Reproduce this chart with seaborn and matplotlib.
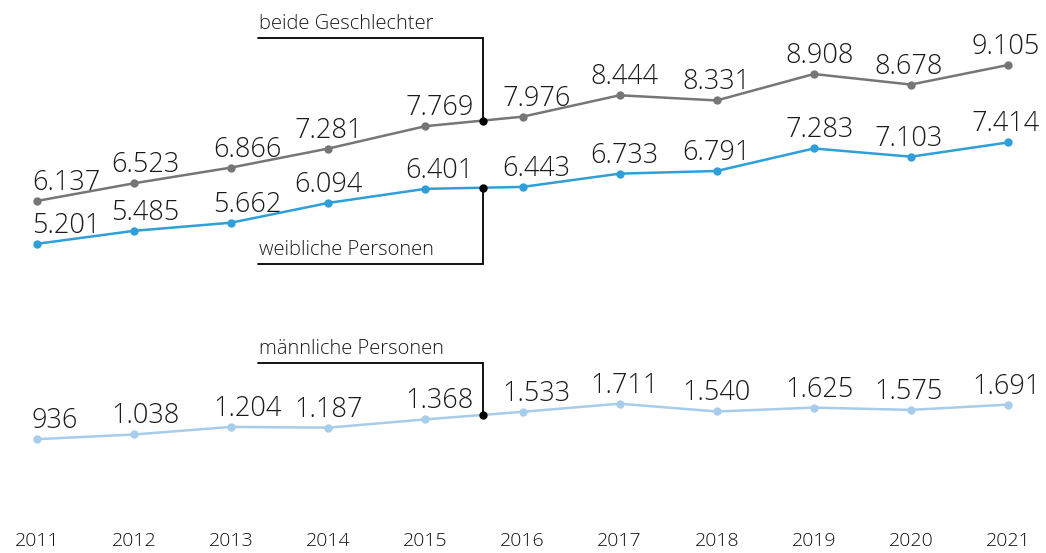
import numpy as np
import pandas as pd
import matplotlib.pyplot as plt
import seaborn as sns

# Daten
years = [2011, 2012, 2013, 2014, 2015, 2016, 2017, 2018, 2019, 2020, 2021]
beide = [6137, 6523, 6866, 7281, 7769, 7976, 8444, 8331, 8908, 8678, 9105]
weiblich = [5201, 5485, 5662, 6094, 6401, 6443, 6733, 6791, 7283, 7103, 7414]
maennlich = [936, 1038, 1204, 1187, 1368, 1533, 1711, 1540, 1625, 1575, 1691]

series_names = ['beide Geschlechter', 'weibliche Personen', 'männliche Personen']
colors = {'beide Geschlechter': '#767676',
          'weibliche Personen': '#2e9fd8',
          'männliche Personen': '#a8cdea'}

# horizontale Verschiebung der Wertebeschriftungen (Pixel), je Jahr
label_dx = [-5, 11, 16, 0, 14, 14, 5, 0, 6, -2, -2]

df = pd.DataFrame({
    'Jahr': years * 3,
    'Wert': beide + weiblich + maennlich,
    'Gruppe': np.repeat(series_names, len(years)),
})

sns.set_style('white')
plt.rcParams['font.family'] = ['Open Sans', 'DejaVu Sans']

fig = plt.figure(figsize=(10.46, 5.53), dpi=100)
ax = fig.add_axes([0, 28 / 553, 1, 525 / 553])

sns.lineplot(data=df, x='Jahr', y='Wert', hue='Gruppe', palette=colors,
             marker='o', markersize=6, markeredgewidth=0, linewidth=1.8,
             legend=False, ax=ax)

ax.set_xlim(2010.619, 2021.391)
ax.set_ylim(-938, 10524)

# Wertebeschriftungen
def fmt(v):
    return f'{v:,}'.replace(',', '.')

for name, vals in zip(series_names, [beide, weiblich, maennlich]):
    for i, (x, v) in enumerate(zip(years, vals)):
        ha = 'left' if i == 0 else 'center'
        ax.annotate(fmt(v), (x, v), xytext=(label_dx[i], 11),
                    textcoords='offset pixels', ha=ha, va='baseline',
                    fontsize=19.5, fontweight='light', color='#1a1a1a')

# Beschriftungen der Linien mit Führungslinien
x_anchor = 2015.59
x_left = 2013.276
callouts = [
    ('beide Geschlechter', beide, 9694),
    ('weibliche Personen', weiblich, 4762),
    ('männliche Personen', maennlich, 2601),
]
for label, vals, y_end in callouts:
    y_dot = np.interp(x_anchor, years, vals)
    ax.plot([x_anchor, x_anchor, x_left], [y_dot, y_end, y_end],
            color='black', linewidth=1.3, solid_joinstyle='miter')
    ax.plot([x_anchor], [y_dot], 'o', color='black', markersize=5)
    ax.annotate(label, (x_left, y_end), xytext=(1, 3), textcoords='offset points',
                ha='left', va='bottom', fontsize=14.5, fontweight='light',
                color='#1a1a1a')

ax.set_xticks(years)
ax.set_xticklabels([str(y) for y in years], fontsize=14, fontweight='light',
                   color='#111111')
ax.tick_params(axis='x', length=0, pad=5)
ax.set_yticks([])
ax.set_xlabel('')
ax.set_ylabel('')
sns.despine(ax=ax, left=True, bottom=True)

fig.savefig('out.png', dpi=100)
